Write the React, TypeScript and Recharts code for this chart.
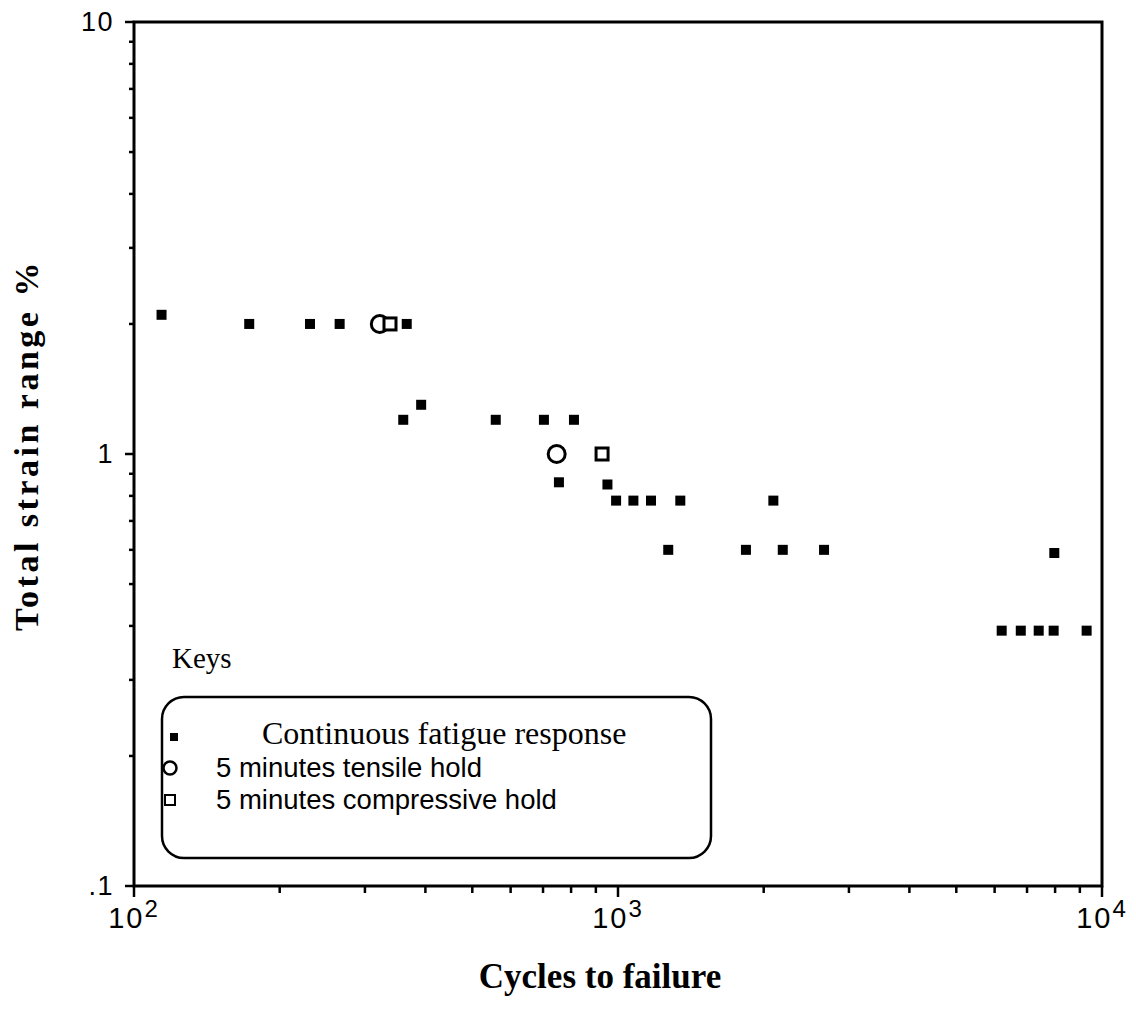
import { ScatterChart, Scatter, XAxis, YAxis, ReferenceArea } from 'recharts';

// continuous fatigue tests (cycles to failure vs total strain range %)
const continuousCycles = [
  114, 173, 231, 266, 366, 360, 392, 559, 703, 811, 755, 951, 991, 1076,
  1170, 1345, 2094, 1270, 1838, 2190, 2665, 7970, 6205, 6795, 7400, 7945, 9295,
];
const continuousStrain = [
  2.1, 2.0, 2.0, 2.0, 2.0, 1.2, 1.3, 1.2, 1.2, 1.2, 0.86, 0.85, 0.78, 0.78,
  0.78, 0.78, 0.78, 0.6, 0.6, 0.6, 0.6, 0.59, 0.39, 0.39, 0.39, 0.39, 0.39,
];

// hold-time tests
const tensileCycles = [322, 747];
const tensileStrain = [2.0, 1.0];
const compressiveCycles = [338, 927];
const compressiveStrain = [2.0, 1.0];

const xTicks = [
  100, 200, 300, 400, 500, 600, 700, 800, 900,
  1000, 2000, 3000, 4000, 5000, 6000, 7000, 8000, 9000, 10000,
];
const yTicks = [
  0.1, 0.2, 0.3, 0.4, 0.5, 0.6, 0.7, 0.8, 0.9,
  1, 2, 3, 4, 5, 6, 7, 8, 9, 10,
];
const yTickLabels: Record<number, string> = { 0.1: '.1', 1: '1', 10: '10' };

const SANS = '"Liberation Sans", Arial, Helvetica, sans-serif';
const SERIF = '"Liberation Serif", "Times New Roman", serif';

const toPoints = (xs: number[], ys: number[]) =>
  xs.map((cycles, i) => ({ cycles, strain: ys[i] }));

const continuous = toPoints(continuousCycles, continuousStrain);
const tensile = toPoints(tensileCycles, tensileStrain);
const compressive = toPoints(compressiveCycles, compressiveStrain);

const isDecade = (v: number) => Math.abs(Math.log10(v) - Math.round(Math.log10(v))) < 1e-6;

const XTick = ({ x, y, payload }: any) => {
  const v = payload.value;
  const major = isDecade(v);
  return (
    <g>
      <line x1={x} x2={x} y1={y} y2={y + (major ? 11 : 7)} stroke="#000" strokeWidth={2.5} />
      {major && (
        <text x={x} y={y + 42} textAnchor="middle" fontFamily={SANS} fontSize={29} letterSpacing={2} fill="#000">
          10
          <tspan dy={-11} fontSize={24}>{Math.round(Math.log10(v))}</tspan>
        </text>
      )}
    </g>
  );
};

const YTick = ({ x, y, payload }: any) => {
  const v = payload.value;
  const major = isDecade(v);
  return (
    <g>
      <line x1={x} x2={x - (major ? 9 : 5)} y1={y} y2={y} stroke="#000" strokeWidth={2.5} />
      {major && (
        <text x={x - 20} y={y + 9} textAnchor="end" fontFamily={SANS} fontSize={27} letterSpacing={1.5} fill="#000">
          {yTickLabels[v]}
        </text>
      )}
    </g>
  );
};

const FilledSquare = ({ cx, cy }: any) => (
  <rect x={cx - 5} y={cy - 5} width={10} height={10} fill="#000" />
);
const OpenCircle = ({ cx, cy }: any) => (
  <circle cx={cx} cy={cy} r={8.5} fill="#fff" stroke="#000" strokeWidth={3} />
);
const OpenSquare = ({ cx, cy }: any) => (
  <rect x={cx - 6} y={cy - 6} width={12} height={12} fill="#fff" stroke="#000" strokeWidth={3} />
);

export default function App() {
  return (
    <div style={{ position: 'relative', width: 1136, height: 1015, background: '#fff' }}>
      <style>{'body { margin: 0; }'}</style>
      <ScatterChart width={1136} height={1015} margin={{ top: 22, right: 34, bottom: 89, left: 74 }}>
        <XAxis
          type="number"
          dataKey="cycles"
          scale="log"
          domain={[100, 10000]}
          allowDataOverflow
          ticks={xTicks}
          interval={0}
          tick={<XTick />}
          tickSize={0}
          tickMargin={0}
          tickLine={false}
          axisLine={false}
          height={40}
        />
        <YAxis
          type="number"
          dataKey="strain"
          scale="log"
          domain={[0.1, 10]}
          allowDataOverflow
          ticks={yTicks}
          interval={0}
          tick={<YTick />}
          tickSize={0}
          tickMargin={0}
          tickLine={false}
          axisLine={false}
          width={60}
        />
        <ReferenceArea x1={100} x2={10000} y1={0.1} y2={10} fill="none" stroke="#000" strokeWidth={3} />
        <Scatter data={continuous} shape={<FilledSquare />} isAnimationActive={false} />
        <Scatter data={tensile} shape={<OpenCircle />} isAnimationActive={false} />
        <Scatter data={compressive} shape={<OpenSquare />} isAnimationActive={false} />
      </ScatterChart>

      <svg
        width={1136}
        height={1015}
        style={{ position: 'absolute', left: 0, top: 0, pointerEvents: 'none' }}
      >
        <text
          transform="translate(38 445) rotate(-90)"
          textAnchor="middle"
          fontFamily={SERIF}
          fontWeight="bold"
          fontSize={34}
          letterSpacing={3.5}
        >
          Total strain range  %
        </text>
        <text x={600} y={988} textAnchor="middle" fontFamily={SERIF} fontWeight="bold" fontSize={35}>
          Cycles to failure
        </text>

        <text x={172} y={668} fontFamily={SERIF} fontSize={29}>Keys</text>
        <rect x={162} y={697} width={549} height={161} rx={22} fill="none" stroke="#000" strokeWidth={2.5} />
        <rect x={170} y={733} width={8} height={8} fill="#000" />
        <text x={262} y={744} fontFamily={SERIF} fontSize={32}>Continuous fatigue response</text>
        <circle cx={170} cy={768} r={6.5} fill="#fff" stroke="#000" strokeWidth={2.5} />
        <text x={216} y={777} fontFamily={SANS} fontSize={27.5}>5 minutes tensile hold</text>
        <rect x={165} y={795} width={10} height={10} fill="#fff" stroke="#000" strokeWidth={2} />
        <text x={216} y={809} fontFamily={SANS} fontSize={27.5}>5 minutes compressive hold</text>
      </svg>
    </div>
  );
}
